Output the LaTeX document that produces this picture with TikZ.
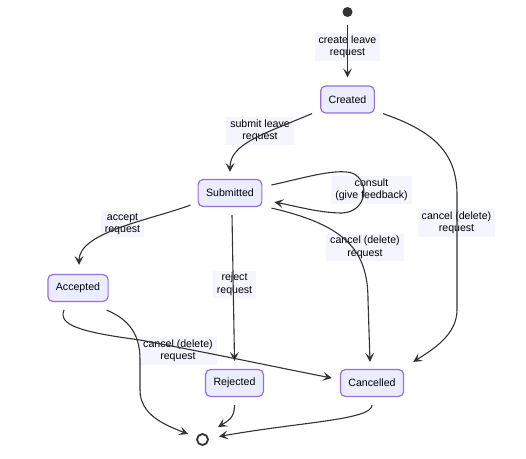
\documentclass[tikz,border=0pt]{standalone}
\usepackage{fontspec}
\setmainfont{Liberation Sans}
\usetikzlibrary{arrows.meta,calc}
\definecolor{edgec}{HTML}{333333}
\definecolor{boxfill}{HTML}{ECECFF}
\definecolor{boxline}{HTML}{9370DB}
\definecolor{lblbg}{RGB}{245,245,255}
\begin{document}
\begin{tikzpicture}[x=1pt,y=-1pt,
  state/.style={draw=boxline, fill=boxfill, line width=1.2pt, rounded corners=5pt, minimum height=27pt, inner xsep=8pt, font=\fontsize{10.6}{12.5}\selectfont},
  lbl/.style={fill=lblbg, inner xsep=4pt, inner ysep=2.5pt, align=center, font=\fontsize{10.6}{12.5}\selectfont},
  edge/.style={draw=edgec, line width=1.1pt, -{Stealth[length=9pt,width=9pt,inset=4pt]}}
]
\useasboundingbox (0,0) rectangle (526,458);
% states
\node[circle, fill=edgec, inner sep=0pt, minimum size=10pt] (start) at (347.5,12) {};
\node[state] (created) at (347.5,99.5) {Created};
\node[state] (submitted) at (230,193) {Submitted};
\node[state] (accepted) at (78,288) {Accepted};
\node[state] (rejected) at (234.5,383) {Rejected};
\node[state] (cancelled) at (372,383) {Cancelled};
\node[circle, draw=edgec, line width=1.8pt, inner sep=0pt, minimum size=11pt] (end) at (202.5,439.5) {};
% labels
\node[lbl] (l1) at (347.5,47) {create leave\\request};
\node[lbl] (l2) at (260,131) {submit leave\\request};
\node[lbl] (l3) at (456.5,223) {cancel (delete)\\request};
\node[lbl] (l4) at (371.5,190) {consult\\(give feedback)};
\node[lbl] (l5) at (365,247.5) {cancel (delete)\\request};
\node[lbl] (l6) at (122.5,224) {accept\\request};
\node[lbl] (l7) at (234.5,284.5) {reject\\request};
\node[lbl] (l8) at (178,351) {cancel (delete)\\request};
% edges
\draw[edge] ($(start.south)+(0,8)$) -- ($(created.north)+(0,-8)$);
\draw[edge] ($(created.south west)+(-8,0)$) .. controls +(-50,21) and +(0,-28) .. ($(submitted.north)+(0,-7)$);
\draw[edge] ($(created.south east)+(8,0)$) .. controls (430,130) and (457,150) .. (457,195) -- (457,310) .. controls (457,335) and (432,350) .. ($(cancelled.north east)+(9,-7)$);
\draw[edge] ($(submitted.east)+(9,-8)$) .. controls (300,179) and (335,168) .. (352,173) .. controls (370,180) and (368,212) .. (342,213) .. controls (320,213) and (295,206) .. ($(submitted.east)+(12,9)$);
\draw[edge] ($(submitted.south east)+(9,1)$) .. controls (345,225) and (368,250) .. (368,300) -- ($(cancelled.north)+(-2,-7)$);
\draw[edge] ($(submitted.south west)+(-7,-2)$) .. controls (150,220) and (79,232) .. ($(accepted.north)+(1,-9)$);
\draw[edge] ($(submitted.south)+(2,8)$) -- ($(rejected.north)+(0,-8)$);
\draw[edge] ($(accepted.south)+(-14,8)$) .. controls (58,325) and (80,332) .. (140,340) .. controls (220,355) and (290,370) .. ($(cancelled.west)+(-8,-5)$);
\draw[edge] ($(accepted.south east)+(-2,8)$) .. controls (130,320) and (140,335) .. (140,360) -- (140,390) .. controls (140,415) and (165,425) .. ($(end.center)+(-14.5,-5.5)$);
\draw[edge] ($(rejected.south)+(0,8)$) .. controls +(0,13) and +(10,-6) .. ($(end.center)+(15.5,-12.5)$);
\draw[edge] ($(cancelled.south)+(0,8)$) .. controls (372,420) and (300,422) .. ($(end.center)+(16.5,-3)$);
\end{tikzpicture}
\end{document}
